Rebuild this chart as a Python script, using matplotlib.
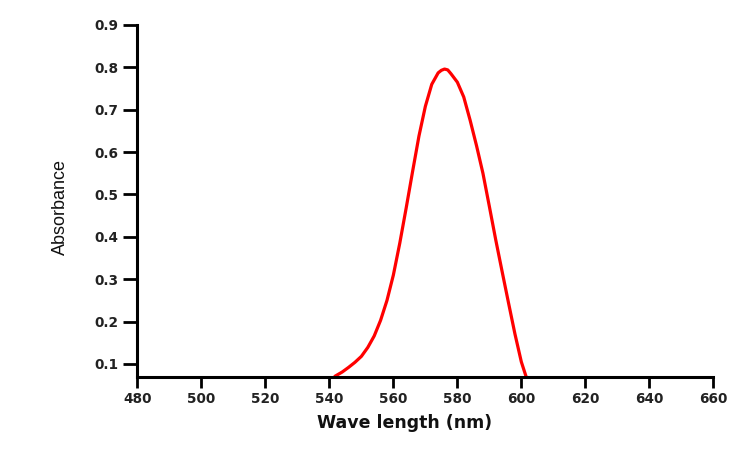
import matplotlib
matplotlib.use("Agg")
import matplotlib.pyplot as plt

# absorbance spectrum
wavelength = [541.5, 544, 546, 548, 550, 552, 554, 556, 558, 560, 562, 564,
              566, 568, 570, 572, 574, 575, 576, 577, 578, 580, 582, 584,
              586, 588, 590, 592, 594, 596, 598, 600, 601.5]
absorbance = [0.070, 0.081, 0.092, 0.104, 0.118, 0.139, 0.166, 0.203, 0.250,
              0.310, 0.385, 0.468, 0.554, 0.638, 0.708, 0.760, 0.787, 0.793,
              0.796, 0.794, 0.785, 0.765, 0.730, 0.675, 0.615, 0.550, 0.472,
              0.393, 0.318, 0.244, 0.171, 0.105, 0.070]

x_ticks = [480, 500, 520, 540, 560, 580, 600, 620, 640, 660]
y_ticks = [0.1, 0.2, 0.3, 0.4, 0.5, 0.6, 0.7, 0.8, 0.9]

fig = plt.figure(figsize=(7.5, 4.61), dpi=100)
ax = fig.add_axes([0.1833, 0.1829, 0.7677, 0.7629])

ax.plot(wavelength, absorbance, color='#ff0000', lw=2.3,
        solid_joinstyle='round', solid_capstyle='butt')

ax.set_xlim(480, 660)
ax.set_ylim(0.07, 0.9)
ax.set_xticks(x_ticks)
ax.set_yticks(y_ticks)
ax.set_yticklabels([f'{v:.1f}' for v in y_ticks])

for s in ['top', 'right']:
    ax.spines[s].set_visible(False)
for s in ['left', 'bottom']:
    ax.spines[s].set_linewidth(2.2)
ax.tick_params(axis='both', direction='out', width=2, labelcolor='#222222')
ax.tick_params(axis='y', length=10, pad=4)
ax.tick_params(axis='x', length=8, pad=3)
for lab in ax.get_xticklabels() + ax.get_yticklabels():
    lab.set_fontweight('bold')
    lab.set_fontsize(9.8)

fig.text(0.54, 0.083, 'Wave length (nm)', ha='center', va='center',
         fontsize=12.5, fontweight='bold', color='#111111')
fig.text(0.08, 0.55, 'Absorbance', rotation=90, ha='center', va='center',
         fontsize=13, family='Liberation Sans', color='#111111')

fig.savefig('out.png', dpi=100)
